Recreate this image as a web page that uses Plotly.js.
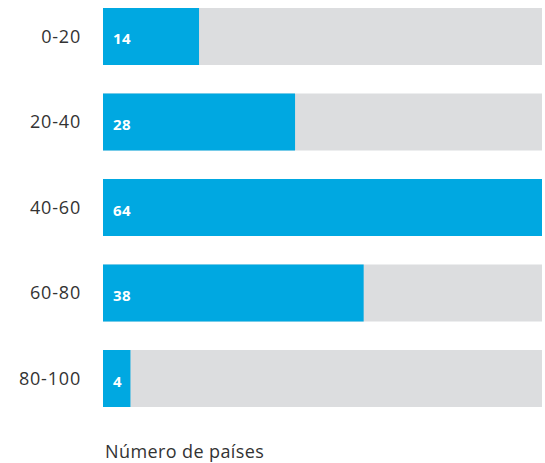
<!DOCTYPE html>
<html><head><meta charset="utf-8">
<script src="https://cdn.plot.ly/plotly-3.0.1.min.js"></script>
<style>body{margin:0;background:#fff} .ytick text{letter-spacing:0.8px} .annotation-text{letter-spacing:0.4px}</style>
</head><body><div id="chart" style="width:545px;height:463px"></div>
<script>
const categories = ["0-20", "20-40", "40-60", "60-80", "80-100"];
const values = [14, 28, 64, 38, 4];
const maxValue = 64;
const axisTitle = "Número de países";

const font = "Open Sans, sans-serif";
const bg = {
  type: "bar", orientation: "h", y: categories, x: categories.map(() => maxValue),
  marker: {color: "#dcdddf"}, hoverinfo: "skip", showlegend: false
};
const fg = {
  type: "bar", orientation: "h", y: categories, x: values,
  marker: {color: "#00a8e1"}, showlegend: false
};
const ann = values.map((v, i) => ({
  x: 0, y: categories[i], xref: "x", yref: "y", text: "<b>" + v + "</b>",
  showarrow: false, xanchor: "left", xshift: 8, yshift: -2,
  font: {family: font, size: 15, color: "#ffffff"}
}));
ann.push({
  x: 0, y: 0, xref: "paper", yref: "paper", yanchor: "middle", xanchor: "left",
  text: axisTitle, showarrow: false, xshift: 0, yshift: -44,
  font: {family: font, size: 18, color: "#333333"}
});
const layout = {
  width: 545, height: 463,
  margin: {l: 103, r: 3, t: 8, b: 56},
  paper_bgcolor: "#fff", plot_bgcolor: "#fff",
  barmode: "overlay", bargap: 0.333,
  xaxis: {range: [0, maxValue], showgrid: false, zeroline: false, showticklabels: false, fixedrange: true},
  yaxis: {type: "category", range: [4.333, -0.333], showgrid: false, zeroline: false,
          ticks: "", ticklabelstandoff: 21, tickfont: {family: font, size: 18, color: "#333333"}},
  annotations: ann
};
Plotly.newPlot("chart", [bg, fg], layout, {displayModeBar: false, staticPlot: true});
</script></body></html>
